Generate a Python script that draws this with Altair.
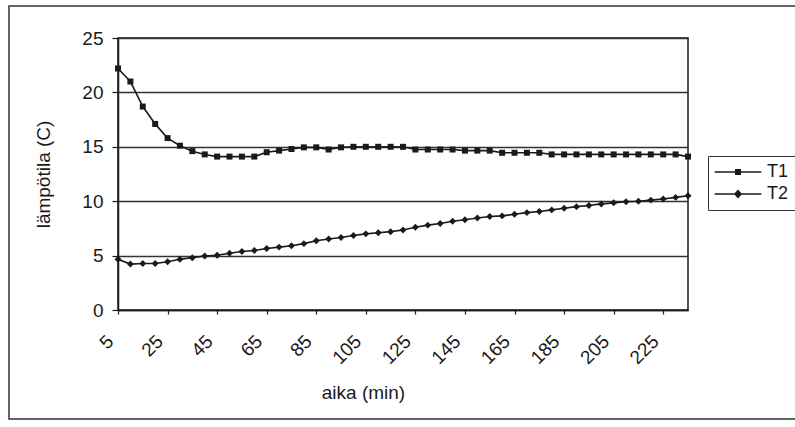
import altair as alt
import pandas as pd

# --- data ---
aika = list(range(5, 240, 5))  # 5 ... 235 min, 47 measurements

T1 = [22.2, 21.0, 18.7, 17.1, 15.8, 15.1, 14.6, 14.3, 14.1, 14.1,
      14.1, 14.1, 14.5, 14.65, 14.8, 14.95, 14.95, 14.75, 14.95, 15.0,
      15.0, 15.0, 15.0, 15.0, 14.75, 14.75, 14.75, 14.75, 14.65, 14.65,
      14.65, 14.45, 14.45, 14.45, 14.45, 14.3, 14.3, 14.3, 14.3, 14.3,
      14.3, 14.3, 14.3, 14.3, 14.3, 14.3, 14.1]

T2 = [4.66, 4.22, 4.28, 4.28, 4.44, 4.66, 4.81, 4.97, 5.03, 5.22,
      5.37, 5.47, 5.66, 5.78, 5.9, 6.1, 6.37, 6.53, 6.66, 6.84,
      7.0, 7.1, 7.2, 7.35, 7.6, 7.8, 7.95, 8.15, 8.3, 8.45,
      8.6, 8.65, 8.8, 8.95, 9.05, 9.2, 9.35, 9.5, 9.6, 9.75,
      9.85, 9.95, 10.0, 10.1, 10.2, 10.35, 10.5]

series = ["T1", "T2"]
y_ticks = [0, 5, 10, 15, 20, 25]

rows = []
for name, vals in zip(series, [T1, T2]):
    for t, v in zip(aika, vals):
        rows.append({"aika": t, "lampotila": v, "sarja": name})
df = pd.DataFrame(rows)

FONT = "Liberation Sans"
INK = "#1a1a1a"

x_enc = alt.X(
    "aika:Q",
    scale=alt.Scale(domain=[5, 235], nice=False, zero=False),
    axis=alt.Axis(
        title="aika (min)",
        values=aika,
        labelExpr="(datum.value - 5) % 20 == 0 ? datum.label : ''",
        labelAngle=-45,
        labelAlign="right",
        labelBaseline="middle",
        labelOverlap=False,
        labelFlush=False,
        labelPadding=24,
        labelOffset=-8,
        labelFontSize=19,
        tickSize=4,
        grid=False,
        titleFontSize=19,
        titleFontWeight="normal",
        titleX=245,
        titleY=88,
        titleBaseline="alphabetic",
        titleAlign="center",
    ),
)
y_enc = alt.Y(
    "lampotila:Q",
    scale=alt.Scale(domain=[0, 25], nice=False),
    axis=alt.Axis(
        title="lämpötila (C)",
        values=y_ticks,
        grid=True,
        gridColor="#333333",
        gridWidth=1.3,
        tickSize=6,
        labelPadding=9,
        labelFontSize=19,
        titleFontSize=19,
        titleFontWeight="normal",
        titleX=-75,
        titleY=136,
        titleBaseline="middle",
    ),
)

base = alt.Chart(df)

lines = base.mark_line(color=INK, strokeWidth=1.6).encode(
    x=x_enc, y=y_enc, detail="sarja:N"
)

points = base.mark_point(filled=True, color=INK, opacity=1).encode(
    x="aika:Q",
    y="lampotila:Q",
    shape=alt.Shape(
        "sarja:N",
        scale=alt.Scale(domain=series, range=["square", "diamond"]),
        legend=None,
    ),
    size=alt.Size(
        "sarja:N",
        scale=alt.Scale(domain=series, range=[36, 48]),
        legend=None,
    ),
)

# legend symbols: a thin filled bar (the line) plus the marker
path_t1 = "M-3.3,-0.1H3.3V0.1H-3.3ZM-0.43,-0.43H0.43V0.43H-0.43Z"
path_t2 = "M-3.3,-0.1H3.3V0.1H-3.3ZM0,-0.62L0.57,0L0,0.62L-0.57,0Z"

legend_layer = base.transform_filter("false").mark_point(
    filled=True, fill=INK, opacity=1
).encode(
    x="aika:Q",
    y="lampotila:Q",
    shape=alt.Shape(
        "sarja:N",
        scale=alt.Scale(domain=series, range=[path_t1, path_t2]),
        legend=alt.Legend(
            title=None,
            orient="none",
            legendX=590,
            legendY=118,
            strokeColor="#333333",
            fillColor="white",
            padding=7,
            symbolSize=200,
            symbolStrokeWidth=0,
            symbolFillColor=INK,
            symbolOffset=14,
            labelOffset=20,
            labelFontSize=18,
            labelColor=INK,
            labelFont=FONT,
            rowPadding=4,
        ),
    ),
)

frame = alt.Chart(alt.Data(values=[{}])).mark_rect(
    fill="transparent", stroke="#333333", strokeWidth=1.5
).encode(
    x=alt.value(-109), x2=alt.value(690), y=alt.value(-32), y2=alt.value(381)
)

chart = (
    alt.layer(frame, lines, points, legend_layer)
    .resolve_scale(shape="independent", size="independent")
    .properties(
        width=570,
        height=272,
        autosize=alt.AutoSizeParams(type="none"),
        padding={"left": 118, "top": 38, "right": 107, "bottom": 117},
        background="white",
    )
    .configure_view(stroke=INK, strokeWidth=1.5)
    .configure_axis(
        labelFont=FONT,
        titleFont=FONT,
        labelColor=INK,
        titleColor=INK,
        domainColor=INK,
        tickColor=INK,
        domainWidth=1.5,
        tickWidth=1.2,
    )
)

chart.save("out.html", embed_options={"renderer": "svg", "actions": False})
